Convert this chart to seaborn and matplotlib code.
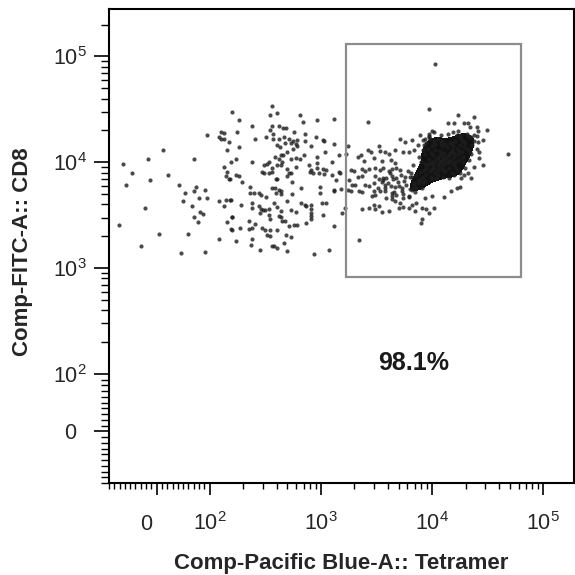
import matplotlib

matplotlib.use("Agg")
import matplotlib.pyplot as plt
import numpy as np
import seaborn as sns
from matplotlib.colors import ListedColormap
from matplotlib.patches import Rectangle
from matplotlib.transforms import ScaledTranslation


# events with tetramer signal above 10^2 (log10 of intensity)
tet_log = [
    2.10, 2.16, 2.13, 2.16, 2.15, 2.18, 2.08, 2.15, 2.18, 2.13, 2.20, 2.16, 2.20, 2.08,
    2.08, 2.10, 2.13, 2.13,
    2.56, 2.20, 2.54, 2.61, 2.81, 2.26, 2.84, 2.97, 3.12, 2.38, 2.56, 2.62, 2.66, 2.69,
    2.54, 2.25, 2.76, 2.86, 2.57, 2.41, 2.51, 2.57, 2.62, 2.67, 2.71, 2.96, 2.75, 2.79,
    2.86, 3.02, 3.03, 2.68, 2.73, 2.78, 2.61, 2.91, 3.12, 2.17, 2.26, 2.63, 2.75, 2.79,
    3.04, 2.70, 2.64, 2.66, 2.85, 2.97, 3.16, 2.59, 2.73, 2.78, 2.81, 2.62, 2.24, 2.19,
    2.38, 2.53, 2.65, 2.97, 3.10, 2.49, 2.52, 2.61, 2.64, 2.78, 2.89, 2.91, 2.97, 3.02,
    3.05, 2.56, 2.70, 2.47, 2.49, 2.53, 2.56, 2.71, 2.73, 2.90, 2.93, 2.98, 3.03, 3.10,
    3.16, 3.17, 2.17, 2.24, 2.26, 2.70, 2.60, 2.61, 2.74, 2.29, 3.14, 2.36, 2.56, 2.59,
    2.62, 2.64, 2.82, 2.99, 3.12, 3.12, 3.18, 2.36, 2.40, 2.44, 2.46, 2.60, 2.64, 2.74,
    2.99, 2.51, 2.19, 2.28, 2.38, 2.58, 2.70, 2.82, 2.86, 2.91, 3.01, 3.05, 3.22, 3.19,
    2.38, 2.44, 2.46, 2.48, 2.50, 2.53, 2.61, 2.64, 2.73, 2.87, 2.91, 2.91, 2.91, 2.91,
    2.78, 2.45, 2.53, 2.62, 2.64, 3.02, 2.20, 2.35, 2.54, 2.65, 2.68, 2.87, 2.41, 2.71,
    2.76, 2.79, 3.12, 2.19, 2.27, 2.35, 2.38, 2.47, 2.50, 2.54, 2.61, 2.52, 2.54, 2.69,
    2.73, 2.38, 2.24, 2.67, 2.37, 2.56, 2.58, 2.61, 2.70, 2.45, 2.94, 3.07,
    3.42, 3.24, 3.23, 3.33, 3.36, 3.42, 3.45, 3.52, 3.53, 3.58, 3.61, 3.71, 3.76, 3.82,
    3.89, 3.92, 3.97, 3.67, 3.74, 3.79, 3.84, 3.87, 3.93, 3.39, 3.48, 3.55, 3.63, 3.67,
    3.27, 3.30, 3.37, 3.40, 3.43, 3.49, 3.53, 3.56, 3.61, 3.64, 3.37, 3.33, 3.49, 3.52,
    3.56, 3.59, 3.64, 3.68, 3.25, 3.28, 3.31, 3.40, 3.43, 3.48, 3.51, 3.55, 3.58, 3.63,
    3.67, 3.24, 3.27, 3.34, 3.37, 3.48, 3.53, 3.58, 3.64, 3.68, 3.73, 3.46, 3.49, 3.59,
    3.64, 3.74, 3.79, 3.67, 3.71, 3.48, 3.52, 3.82, 3.86, 3.37, 3.43, 3.49, 3.55, 3.61,
    3.70, 3.74, 3.79, 3.85, 3.91, 3.95, 3.90, 3.34,
    3.97, 4.23, 4.38, 4.14, 4.20, 4.29, 4.32, 4.34, 4.40, 4.41, 4.49, 4.00, 4.02, 4.08,
    4.14, 4.19, 4.23, 4.26, 4.31, 4.35, 4.38, 4.41, 4.46, 4.68, 4.46, 4.38, 4.42, 4.40,
    4.42, 4.35, 4.25, 4.11, 4.02, 3.97, 3.94, 4.00, 3.91, 4.17, 4.22, 4.29, 4.32, 3.94,
    3.97, 4.03,
    3.60, 3.65, 3.70, 3.72, 3.75, 3.78, 3.80, 3.82, 3.66, 3.58, 3.62, 3.74, 3.68, 3.77,
    3.85, 3.83, 3.79, 3.71, 3.64, 3.56, 3.87, 3.81, 3.76, 3.69, 3.73,
]
cd8_log = [
    4.22, 4.12, 3.96, 3.91, 3.87, 3.84, 3.63, 3.64, 3.64, 3.59, 3.48, 3.44, 3.36, 3.28,
    4.24, 4.29, 4.28, 4.22,
    4.53, 4.48, 4.45, 4.47, 4.45, 4.40, 4.38, 4.40, 4.41, 4.34, 4.34, 4.34, 4.32, 4.32,
    4.31, 4.29, 4.29, 4.27, 4.27, 4.22, 4.24, 4.22, 4.22, 4.24, 4.22, 4.24, 4.20, 4.21,
    4.20, 4.21, 4.20, 4.18, 4.18, 4.17, 4.16, 4.15, 4.17, 4.19, 4.14, 4.14, 4.13, 4.15,
    4.10, 4.10, 4.07, 4.07, 4.07, 4.05, 4.07, 4.05, 4.03, 4.04, 4.03, 4.03, 4.03, 4.00,
    4.00, 4.00, 4.00, 3.99, 4.00, 3.97, 3.98, 3.97, 3.97, 3.96, 3.97, 3.93, 3.95, 3.94,
    3.93, 3.95, 3.94, 3.91, 3.90, 3.90, 3.91, 3.90, 3.90, 3.91, 3.90, 3.90, 3.89, 3.88,
    3.91, 3.90, 3.84, 3.88, 3.87, 3.87, 3.84, 3.84, 3.81, 3.81, 3.83, 3.77, 3.76, 3.76,
    3.74, 3.73, 3.76, 3.77, 3.74, 3.73, 3.75, 3.71, 3.71, 3.71, 3.69, 3.71, 3.70, 3.70,
    3.71, 3.67, 3.64, 3.60, 3.62, 3.62, 3.63, 3.62, 3.60, 3.60, 3.62, 3.62, 3.57, 3.52,
    3.57, 3.59, 3.56, 3.55, 3.55, 3.56, 3.58, 3.54, 3.55, 3.59, 3.56, 3.52, 3.49, 3.46,
    3.53, 3.52, 3.50, 3.49, 3.48, 3.50, 3.48, 3.45, 3.46, 3.45, 3.45, 3.43, 3.42, 3.40,
    3.41, 3.41, 3.40, 3.37, 3.38, 3.37, 3.38, 3.38, 3.36, 3.36, 3.36, 3.31, 3.30, 3.31,
    3.29, 3.28, 3.26, 3.24, 3.22, 3.21, 3.21, 3.19, 3.16, 3.17, 3.13, 3.17,
    4.38, 4.15, 4.08, 4.05, 4.07, 4.12, 4.10, 4.15, 4.11, 4.10, 4.08, 4.22, 4.19, 4.21,
    4.26, 4.21, 4.27, 4.12, 4.10, 4.10, 4.12, 4.16, 4.16, 4.01, 4.04, 4.01, 4.02, 3.99,
    3.93, 3.92, 3.94, 3.92, 3.94, 3.95, 3.93, 3.95, 3.92, 3.94, 3.87, 3.86, 3.87, 3.84,
    3.83, 3.85, 3.87, 3.85, 3.83, 3.79, 3.79, 3.79, 3.78, 3.80, 3.76, 3.81, 3.79, 3.78,
    3.77, 3.74, 3.73, 3.73, 3.72, 3.73, 3.73, 3.73, 3.71, 3.69, 3.73, 3.68, 3.69, 3.66,
    3.65, 3.66, 3.67, 3.63, 3.62, 3.60, 3.59, 3.60, 3.62, 3.56, 3.57, 3.56, 3.53, 3.54,
    3.57, 3.58, 3.57, 3.54, 3.57, 3.56, 3.43, 3.27,
    4.50, 4.45, 4.43, 4.37, 4.37, 4.37, 4.37, 4.33, 4.33, 4.30, 4.31, 4.30, 4.29, 4.26,
    4.27, 4.29, 4.30, 4.26, 4.26, 4.24, 4.26, 4.19, 4.21, 4.08, 3.97, 3.96, 4.04, 4.13,
    4.10, 3.85, 3.77, 3.67, 3.57, 3.52, 3.66, 3.68, 3.46, 3.73, 3.76, 3.88, 3.90, 4.22,
    4.24, 4.93,
    3.80, 3.84, 3.78, 3.88, 3.82, 3.92, 3.75, 3.86, 3.72, 3.76, 3.90, 3.70, 3.95, 3.79,
    3.72, 3.97, 3.68, 3.93, 3.68, 3.85, 3.83, 3.90, 3.86, 3.81, 3.76,
]

# events with tetramer signal below 10^2 (linear intensity)
dim_tet = [12, -16, 70, -64, -47, 22, -13, -58, 43, 74, 92, 70, 54, 79, 95,
           50, 67, -22, 81, 88, 70, 78, -71, 5, 60, -30, 92, 46, 95]
dim_cd8_log = [4.12, 4.03, 4.03, 3.98, 3.90, 3.88, 3.83, 3.79, 3.79, 3.77, 3.74, 3.73, 3.71, 3.66, 3.66,
               3.63, 3.59, 3.57, 3.53, 3.51, 3.48, 3.44, 3.41, 3.32, 3.32, 3.21, 3.15, 3.14, 4.26]

# dense tetramer+ CD8+ core (log10 of intensity)
core_tet_log = [
    4.08, 4.05, 4.12, 4.10, 4.02, 4.15, 4.18, 4.00, 4.06, 3.98, 4.14, 4.20, 4.04, 4.11,
    3.95, 4.22, 4.09, 4.01, 4.17, 3.93, 4.25, 4.07, 3.99, 4.13, 4.03, 4.19, 4.27, 3.90,
    4.16, 4.06, 4.23, 3.96, 4.10, 4.00, 4.14, 4.08, 4.02, 4.12, 4.05, 4.18, 3.88, 3.92,
    4.30, 4.28, 4.21, 3.97, 4.11, 3.94, 4.24, 4.09, 3.86, 4.32, 4.04, 3.84, 4.26, 4.15,
    3.99, 4.19, 3.91, 4.07, 4.13, 4.01, 4.10, 4.05, 4.16, 3.95, 4.03, 4.21, 3.89, 4.12,
    4.28, 4.33, 4.36, 4.31, 4.25, 4.38, 4.22, 4.34, 4.29, 4.40, 4.05, 4.15, 3.98, 4.20,
    4.00, 3.94, 4.18, 4.24, 3.92, 4.09, 3.86, 3.82, 3.88, 3.84, 3.80,
    4.25, 4.30, 4.20, 4.28, 4.22, 4.33, 3.95, 3.98, 4.02, 3.92, 4.00, 3.97, 4.15, 4.18,
    4.10, 4.05, 4.08, 3.88, 3.90, 4.35, 4.26, 3.94, 4.12, 4.21, 4.03, 3.96,
]
core_cd8_log = [
    4.01, 3.98, 4.04, 3.97, 3.95, 4.07, 4.10, 4.00, 4.06, 3.92, 3.99, 4.05, 4.03, 4.09,
    3.89, 4.13, 3.94, 4.07, 4.02, 3.93, 4.16, 4.11, 3.86, 4.14, 3.90, 3.98, 4.10, 3.84,
    4.18, 3.96, 4.08, 3.97, 4.02, 3.94, 4.06, 4.08, 4.00, 3.99, 4.04, 4.12, 3.80, 3.86,
    4.18, 4.05, 4.20, 4.03, 3.92, 3.82, 4.02, 4.15, 3.88, 4.13, 3.85, 3.78, 4.22, 3.95,
    4.09, 4.15, 3.76, 4.00, 4.02, 3.97, 4.05, 3.93, 4.09, 3.95, 4.12, 4.00, 3.91, 4.17,
    4.20, 4.24, 4.16, 4.27, 4.24, 4.20, 4.26, 4.10, 4.14, 4.25, 3.88, 4.00, 3.99, 4.09,
    3.84, 3.98, 4.18, 4.11, 3.80, 4.20, 3.76, 3.74, 3.82, 3.80, 3.86,
    3.90, 3.95, 3.88, 4.00, 3.93, 4.02, 4.18, 4.22, 4.20, 4.12, 4.15, 4.25, 3.85, 3.90,
    3.86, 4.22, 4.18, 4.05, 4.00, 4.08, 3.85, 4.08, 3.92, 3.96, 4.17, 4.13,
]

x_ticks = [0, 1e2, 1e3, 1e4, 1e5]
x_tick_labels = ["0", r"$\mathregular{10^2}$", r"$\mathregular{10^3}$",
                 r"$\mathregular{10^4}$", r"$\mathregular{10^5}$"]
y_ticks = [0, 1e2, 1e3, 1e4, 1e5]
y_tick_labels = x_tick_labels

gate = (1694, 62500, 824, 132000)  # tetramer lo/hi, CD8 lo/hi
gate_label = "98.1%"
x_range = (-82, 1.89e5)
y_range = (-81, 2.81e5)


def minor_ticks(top):
    ticks = [s * v for v in range(10, 100, 10) for s in (-1, 1)]
    for k in range(2, 6):
        ticks += [m * 10 ** k for m in range(2, 10)]
    return [t for t in ticks if t <= top]


sns.set_style("ticks")
plt.rcParams["font.family"] = ["Liberation Sans", "DejaVu Sans"]

fig = plt.figure(figsize=(5.75, 5.75), dpi=100)
ax = fig.add_axes([109 / 575, 92 / 575, 465 / 575, 474 / 575])

bright_x = np.power(10.0, tet_log)
bright_y = np.power(10.0, cd8_log)
core_x = np.power(10.0, core_tet_log)
core_y = np.power(10.0, core_cd8_log)

sns.kdeplot(x=core_x, y=core_y, fill=True, levels=[0.2, 1.0],
            cmap=ListedColormap(["#111111"]), log_scale=True, bw_adjust=0.9, ax=ax)

ax.set_xscale("symlog", linthresh=100, linscale=0.4286)
ax.set_yscale("symlog", linthresh=100, linscale=0.488)

all_x = np.concatenate([bright_x, np.array(dim_tet, dtype=float), core_x])
all_y = np.concatenate([bright_y, np.power(10.0, dim_cd8_log), core_y])
sns.scatterplot(x=all_x, y=all_y, s=9, color="#1e1e1e", alpha=0.8, linewidth=0, ax=ax)

ax.add_patch(Rectangle((gate[0], gate[2]), gate[1] - gate[0], gate[3] - gate[2],
                       fill=False, edgecolor="#8c8c8c", linewidth=1.6, zorder=3))
ax.text(6800, 127, gate_label, ha="center", va="center", fontsize=18, fontweight="bold",
        color="#1a1a1a")

ax.set_xlim(*x_range)
ax.set_ylim(*y_range)
ax.set_xticks(x_ticks, labels=x_tick_labels, va="baseline")
ax.set_xticks(minor_ticks(x_range[1]), minor=True)
ax.set_yticks(y_ticks, labels=y_tick_labels, ha="center")
ax.set_yticks(minor_ticks(y_range[1]), minor=True)

ax.tick_params(axis="x", which="major", direction="out", length=8.5, width=1.2,
               pad=25, labelsize=15.5, color="black")
ax.tick_params(axis="x", which="minor", direction="out", length=4.5, width=1.0, color="black")
ax.tick_params(axis="y", which="major", direction="out", length=11, width=1.2,
               pad=17, labelsize=15.5, color="black")
ax.tick_params(axis="y", which="minor", direction="out", length=6, width=1.0, color="black")

# the "0" label of the tetramer axis sits a little left of its tick
zero_lbl = ax.xaxis.get_major_ticks()[0].label1
zero_lbl.set_transform(zero_lbl.get_transform() + ScaledTranslation(-0.1, 0, fig.dpi_scale_trans))

for side in ["left", "bottom", "top", "right"]:
    ax.spines[side].set_visible(True)
    ax.spines[side].set_linewidth(1.5)
    ax.spines[side].set_color("black")

ax.set_xlabel("Comp-Pacific Blue-A:: Tetramer", fontsize=16, fontweight="bold", va="center")
ax.set_ylabel("Comp-FITC-A:: CD8", fontsize=16, fontweight="bold", va="center")
ax.xaxis.set_label_coords(0.5, -0.169)
ax.yaxis.set_label_coords(-0.187, 0.487)

fig.savefig("out.png", dpi=100)
plt.close(fig)
